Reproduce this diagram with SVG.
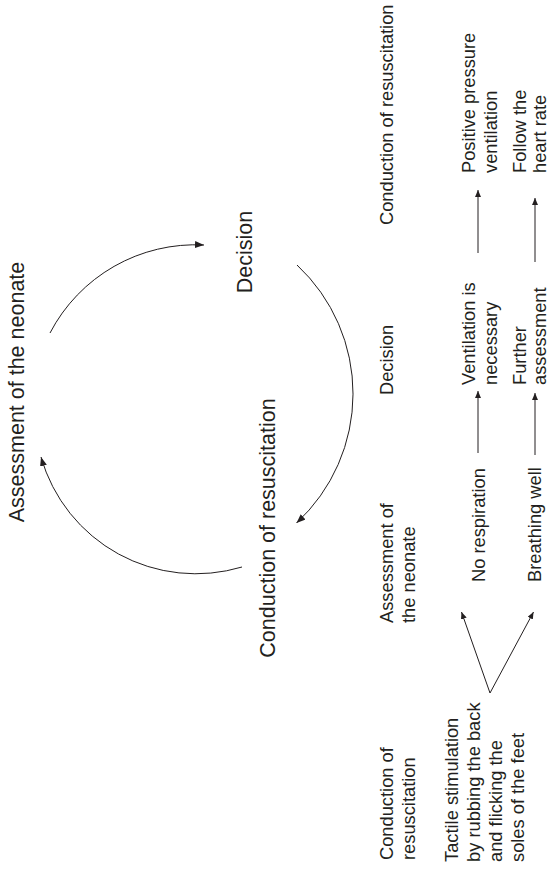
<svg xmlns="http://www.w3.org/2000/svg" width="550" height="872" viewBox="0 0 550 872">
<style>
  text { font-family: "Liberation Sans", Arial, Helvetica, sans-serif; fill: #231f20; }
  .big { font-size: 21.5px; }
  .sm { font-size: 18.3px; }
  .arc { fill: none; stroke: #231f20; stroke-width: 1; }
  .ln { fill: none; stroke: #231f20; stroke-width: 1; }
</style>
<defs>
  <marker id="headBig" markerUnits="userSpaceOnUse" markerWidth="10" markerHeight="8" refX="9" refY="3.5" orient="auto">
    <path d="M0,0 L9,3.5 L0,7 z" fill="#231f20"/>
  </marker>
  <marker id="headSm" markerUnits="userSpaceOnUse" markerWidth="8" markerHeight="7" refX="7" refY="3" orient="auto">
    <path d="M0,0 L7,3 L0,6 z" fill="#231f20"/>
  </marker>
</defs>

<g id="connectors">
  <path id="arc-assess-decision" class="arc" d="M 50 333 A 164 164 0 0 1 204 245" marker-end="url(#headBig)"/>
  <path id="arc-decision-conduct" class="arc" d="M 297 265 A 176 176 0 0 1 296.5 523" marker-end="url(#headBig)"/>
  <path id="arc-conduct-assess" class="arc" d="M 242 567 A 161 161 0 0 1 41 457" marker-end="url(#headBig)"/>
  <line class="ln" x1="490" y1="693" x2="461.5" y2="612" marker-end="url(#headSm)"/>
  <line class="ln" x1="490" y1="693" x2="533.5" y2="612" marker-end="url(#headSm)"/>
  <line class="ln" x1="478" y1="453" x2="478" y2="391" marker-end="url(#headSm)"/>
  <line class="ln" x1="535" y1="455" x2="535" y2="393" marker-end="url(#headSm)"/>
  <line class="ln" x1="478" y1="253" x2="478" y2="190" marker-end="url(#headSm)"/>
  <line class="ln" x1="535" y1="262" x2="535" y2="198" marker-end="url(#headSm)"/>
</g>

<g id="cycle-assessment">
  <text class="big" transform="translate(24,392) rotate(-90)" text-anchor="middle">Assessment of the neonate</text>
</g>
<g id="cycle-decision">
  <text class="big" transform="translate(251.5,252) rotate(-90)" text-anchor="middle">Decision</text>
</g>
<g id="cycle-conduction">
  <text class="big" transform="translate(275,528) rotate(-90)" text-anchor="middle">Conduction of resuscitation</text>
</g>

<g id="hdr-conduction-1">
  <text class="sm" transform="translate(393,860) rotate(-90)"><tspan x="0" y="0">Conduction of</tspan><tspan x="0" y="22">resuscitation</tspan></text>
</g>
<g id="hdr-assessment">
  <text class="sm" transform="translate(393,623) rotate(-90)"><tspan x="0" y="0">Assessment of</tspan><tspan x="0" y="22">the neonate</tspan></text>
</g>
<g id="hdr-decision">
  <text class="sm" transform="translate(393,395) rotate(-90)">Decision</text>
</g>
<g id="hdr-conduction-2">
  <text class="sm" transform="translate(393,225) rotate(-90)">Conduction of resuscitation</text>
</g>

<g id="tactile">
  <text class="sm" transform="translate(458,862) rotate(-90)"><tspan x="0" y="0">Tactile stimulation</tspan><tspan x="0" y="22">by rubbing the back</tspan><tspan x="0" y="44">and flicking the</tspan><tspan x="0" y="66">soles of the feet</tspan></text>
</g>
<g id="no-respiration">
  <text class="sm" transform="translate(485,582) rotate(-90)">No respiration</text>
</g>
<g id="breathing-well">
  <text class="sm" transform="translate(541,582) rotate(-90)">Breathing well</text>
</g>
<g id="ventilation-necessary">
  <text class="sm" transform="translate(475,385) rotate(-90)"><tspan x="0" y="0">Ventilation is</tspan><tspan x="0" y="22">necessary</tspan></text>
</g>
<g id="further-assessment">
  <text class="sm" transform="translate(526,385) rotate(-90)"><tspan x="0" y="0">Further</tspan><tspan x="0" y="20">assessment</tspan></text>
</g>
<g id="ppv">
  <text class="sm" transform="translate(475,173) rotate(-90)"><tspan x="0" y="0">Positive pressure</tspan><tspan x="0" y="22">ventilation</tspan></text>
</g>
<g id="follow-hr">
  <text class="sm" transform="translate(526,173) rotate(-90)"><tspan x="0" y="0">Follow the</tspan><tspan x="0" y="20">heart rate</tspan></text>
</g>
</svg>
